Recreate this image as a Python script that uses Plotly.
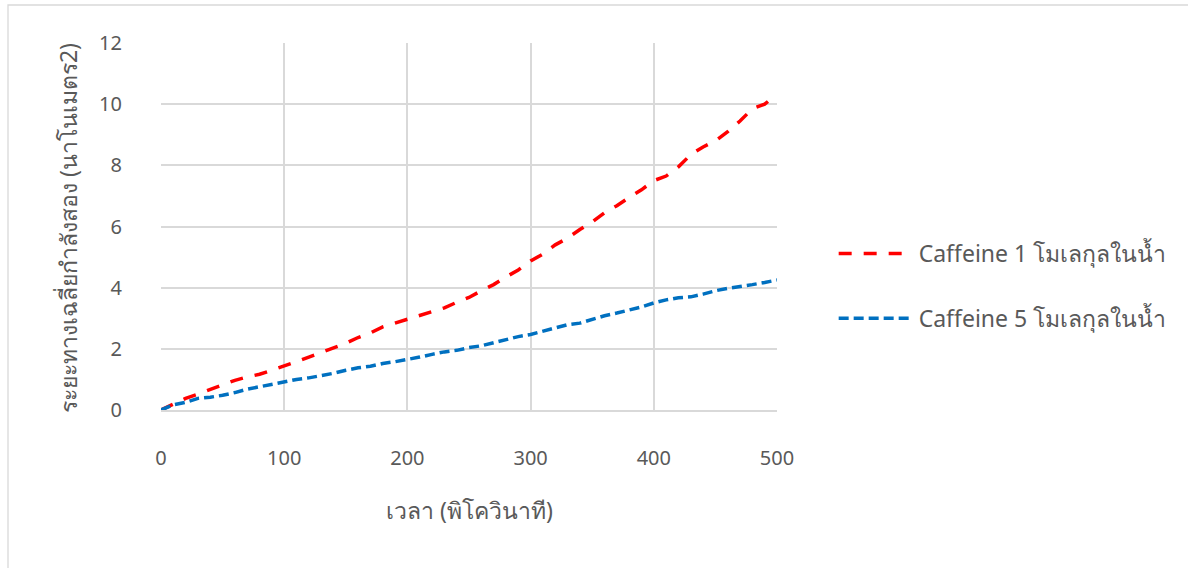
import plotly.graph_objects as go

time_ps = [0, 10, 20, 30, 40, 50, 60, 70, 80, 90, 100, 110, 120, 130, 140, 150, 160, 170, 180, 190,
           200, 210, 220, 230, 240, 250, 260, 270, 280, 290, 300, 310, 320, 330, 340, 350, 360, 370,
           380, 390, 400, 410, 420, 430, 440, 450, 460, 470, 480, 490, 500]

msd_caffeine1 = [0, 0.2, 0.38, 0.52, 0.68, 0.83, 0.97, 1.08, 1.17, 1.3, 1.43, 1.58, 1.73, 1.88, 2.04,
                 2.18, 2.37, 2.52, 2.72, 2.85, 2.98, 3.1, 3.22, 3.34, 3.52, 3.68, 3.9, 4.1, 4.35, 4.58,
                 4.87, 5.1, 5.4, 5.62, 5.9, 6.15, 6.45, 6.68, 6.95, 7.2, 7.5, 7.65, 7.95, 8.35, 8.6,
                 8.8, 9.1, 9.45, 9.85, 10.0, 10.33]

msd_caffeine5 = [0, 0.17, 0.25, 0.38, 0.42, 0.48, 0.57, 0.68, 0.76, 0.84, 0.93, 1.0, 1.05, 1.12, 1.2,
                 1.3, 1.38, 1.43, 1.52, 1.58, 1.65, 1.73, 1.82, 1.9, 1.95, 2.04, 2.1, 2.2, 2.28, 2.4,
                 2.47, 2.58, 2.67, 2.79, 2.84, 2.97, 3.08, 3.17, 3.27, 3.37, 3.5, 3.6, 3.67, 3.7, 3.79,
                 3.9, 3.98, 4.03, 4.1, 4.17, 4.25]

series_names = ["Caffeine 1 โมเลกุลในน้ำ", "Caffeine 5 โมเลกุลในน้ำ"]
x_title = "เวลา (พิโควินาที)"
y_title = "ระยะทางเฉลี่ยกำลังสอง (นาโนเมตร2)"
x_ticks = [0, 100, 200, 300, 400, 500]
y_ticks = [0, 2, 4, 6, 8, 10, 12]

FONT = "Noto Sans, DejaVu Sans, sans-serif"
GREY = "#595959"
GRID = "#d9d9d9"

fig = go.Figure()
fig.add_trace(go.Scatter(x=time_ps, y=msd_caffeine1, mode="lines", name=series_names[0],
                         line=dict(color="#FF0000", width=3.5, dash="13px,12px"),
                         legendgroup="a"))
fig.add_trace(go.Scatter(x=time_ps, y=msd_caffeine5, mode="lines", name=series_names[1],
                         line=dict(color="#0070C0", width=3.5, dash="10px,5px"),
                         legendgroup="b"))

fig.update_layout(
    width=1188, height=568,
    margin=dict(l=161, r=411, t=43, b=158),
    paper_bgcolor="white", plot_bgcolor="white",
    font=dict(family=FONT, size=20, color=GREY),
    showlegend=True,
    legend=dict(x=1.092, y=(410 - 286) / 367, xanchor="left", yanchor="middle",
                itemwidth=75, tracegroupgap=32, font=dict(size=23, color=GREY),
                bgcolor="rgba(0,0,0,0)"),
    xaxis=dict(range=[0, 500], tickvals=x_ticks, showgrid=True, gridcolor=GRID, gridwidth=2,
               zeroline=False, showline=True, linecolor=GRID, linewidth=2, mirror=False,
               ticks="outside", ticklen=0, ticklabelstandoff=29, tickfont=dict(size=20, color=GREY)),
    yaxis=dict(range=[0, 12], tickvals=y_ticks, showgrid=True, gridcolor=GRID, gridwidth=2,
               zeroline=False, showline=False,
               ticks="outside", ticklen=0, ticklabelstandoff=34, tickfont=dict(size=20, color=GREY)),
    annotations=[
        dict(text=x_title, xref="paper", yref="paper", x=0.5, y=(410 - 510) / 367,
             xanchor="center", yanchor="middle", showarrow=False, font=dict(size=23, color=GREY)),
        dict(text=y_title, xref="paper", yref="paper", x=(68 - 161) / 616, y=(410 - 228) / 367,
             xanchor="center", yanchor="middle", textangle=-90, showarrow=False,
             font=dict(size=23, color=GREY)),
    ],
    shapes=[
        dict(type="rect", xref="paper", yref="paper",
             x0=(8 - 161) / 616, x1=(1195 - 161) / 616,
             y0=(410 - 575) / 367, y1=(410 - 5) / 367,
             line=dict(color=GRID, width=1.3), fillcolor="rgba(0,0,0,0)", layer="below"),
    ],
)

fig.write_html("out.html")
